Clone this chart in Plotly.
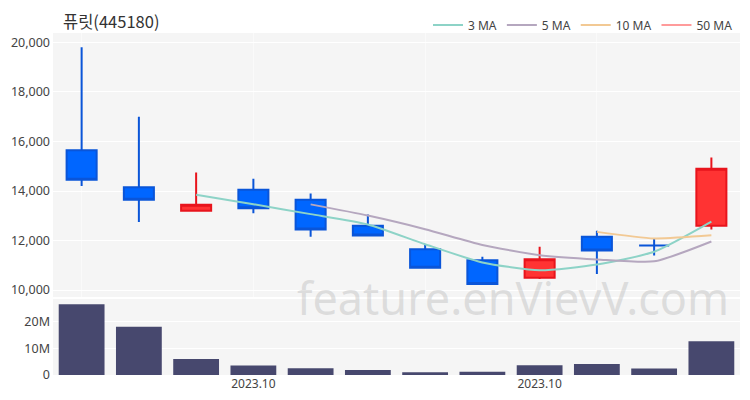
import plotly.graph_objects as go
from plotly.subplots import make_subplots

# ---- data ----
dates = ["2023-09-25", "2023-09-26", "2023-09-27", "2023-10-04", "2023-10-05", "2023-10-06",
         "2023-10-10", "2023-10-11", "2023-10-12", "2023-10-13", "2023-10-16", "2023-10-17"]
opens = [15650, 14150, 13200, 14050, 13650, 12600, 11650, 11200, 10500, 12150, 11800, 12600]
highs = [19800, 17000, 14750, 14500, 13900, 13050, 11850, 11350, 11750, 12400, 12100, 15350]
lows = [14200, 12750, 13200, 13100, 12150, 12200, 10900, 10250, 10450, 10650, 11400, 12450]
closes = [14450, 13650, 13450, 13300, 12450, 12200, 10900, 10250, 11250, 11600, 11800, 14900]
volumes = [26.6e6, 18.1e6, 6.0e6, 3.6e6, 2.5e6, 1.9e6, 1.0e6, 1.2e6, 3.7e6, 4.1e6, 2.4e6, 12.7e6]

ma3 = [None, None, 13850, 13467, 13067, 12650, 11850, 11117, 10800, 11033, 11550, 12767]
ma5 = [None, None, None, None, 13460, 13010, 12460, 11820, 11410, 11240, 11160, 11960]
ma10 = [None, None, None, None, None, None, None, None, None, 12350, 12085, 12210]
ma50 = [None] * 12

grid_idx = [0, 3, 6, 9]
label_idx = [3, 8]

title_text = "퓨릿(445180)"
watermark = "feature.enVievV.com"

# ---- figure ----
n = len(dates)
xs = list(range(n))
up = [c > o for o, c in zip(opens, closes)]

W, H = 742, 392  # page body has an 8px margin

fig = make_subplots(rows=2, cols=1, shared_xaxes=False, vertical_spacing=0.0,
                    row_heights=[0.77, 0.23])

RED_FILL, RED_LINE = "#ff3333", "#e8141c"
BLUE_FILL, BLUE_LINE = "#0066ff", "#0a55d8"


def subset(arr, flag):
    return [v for v, u in zip(arr, up) if u == flag]


for flag, fill, line in [(False, BLUE_FILL, BLUE_LINE), (True, RED_FILL, RED_LINE)]:
    fig.add_trace(go.Candlestick(
        x=subset(xs, flag), open=subset(opens, flag), high=subset(highs, flag),
        low=subset(lows, flag), close=subset(closes, flag),
        increasing=dict(fillcolor=fill, line=dict(color=line, width=2)),
        decreasing=dict(fillcolor=fill, line=dict(color=line, width=2)),
        showlegend=False, hoverinfo="skip"), row=1, col=1)

for name, vals, color in [("3 MA", ma3, "#8dd3c7"), ("5 MA", ma5, "#b5a7bf"),
                          ("10 MA", ma10, "#f2c994"), ("50 MA", ma50, "#ff9b9b")]:
    fig.add_trace(go.Scatter(x=xs, y=vals, mode="lines", name=name,
                             line=dict(color=color, width=2, shape="spline", smoothing=0.6),
                             connectgaps=False, hoverinfo="skip"), row=1, col=1)

fig.add_trace(go.Bar(x=xs, y=volumes, marker=dict(color="#47486e", line=dict(width=0)),
                     width=0.8, showlegend=False, hoverinfo="skip"), row=2, col=1)

fig.update_layout(
    width=W, height=H,
    margin=dict(l=45, r=10, t=25, b=25, autoexpand=False),
    paper_bgcolor="white", plot_bgcolor="#f5f5f5",
    font=dict(family="Noto Sans, Noto Sans CJK KR, sans-serif", size=12.5, color="#444"),
    title=dict(text=title_text, x=55 / W, xanchor="left", xref="container",
               y=1 - 14 / H, yanchor="middle", pad=dict(l=0, r=0, t=0, b=0),
               font=dict(family="Noto Sans CJK KR, Noto Sans, sans-serif", size=16.5, color="#333")),
    legend=dict(orientation="h", x=1 - 12 / W, xanchor="right", xref="container",
                y=1 - 17 / H, yanchor="middle", yref="container",
                font=dict(size=12, color="#444"), bgcolor="rgba(0,0,0,0)",
                itemwidth=30, tracegroupgap=0),
    boxgap=0.25,
    showlegend=True,
)

fig.update_xaxes(range=[-0.5, n - 0.5], tickvals=grid_idx, showticklabels=False,
                 showgrid=True, gridcolor="#fafafa", gridwidth=1, zeroline=False,
                 automargin=False, rangeslider=dict(visible=False), row=1, col=1)
fig.update_xaxes(range=[-0.5, n - 0.5], tickvals=label_idx,
                 ticktext=[dates[i][:7].replace("-", ".") for i in label_idx],
                 showgrid=False, zeroline=False, ticks="", automargin=False,
                 tickfont=dict(size=12, color="#444"), row=2, col=1)
fig.update_yaxes(range=[9720, 20380], dtick=2000, tick0=10000, tickformat=",",
                 showgrid=True, gridcolor="white", gridwidth=1, zeroline=False,
                 automargin=False, ticklabelstandoff=2,
                 domain=[0.228, 1.0], row=1, col=1)
fig.update_yaxes(range=[0, 28.5e6], tickvals=[0, 1e7, 2e7], tickformat="~s",
                 showgrid=True, gridcolor="white", gridwidth=1, zeroline=False,
                 automargin=False, ticklabelstandoff=2,
                 domain=[0.0, 0.222], row=2, col=1)

fig.add_annotation(text=watermark, xref="paper", yref="paper", x=0.67, y=0.228,
                   xanchor="center", yanchor="middle", showarrow=False,
                   font=dict(family="Noto Sans, sans-serif", size=45, color="rgba(190,190,190,0.45)"))

fig.write_html("out.html")
